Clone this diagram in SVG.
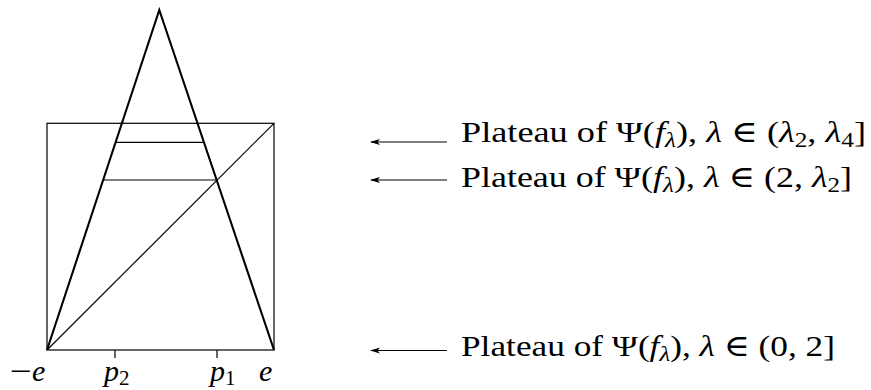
<svg xmlns="http://www.w3.org/2000/svg" width="871" height="390" viewBox="0 0 871 390">
<style>
.thin{fill:none;stroke:#000;stroke-width:1.2}
.thick{fill:none;stroke:#000;stroke-width:2.1;stroke-linejoin:miter}
.arr{fill:none;stroke:#000;stroke-width:1.2}
.lbl{font-family:"Liberation Serif","DejaVu Serif",serif;font-size:30px;fill:#000}
.ax{font-family:"Liberation Serif","DejaVu Serif",serif;font-size:30px;fill:#000}
.it{font-style:italic}
.sub{font-size:21px}
</style>
<defs>
<marker id="ah" markerWidth="10" markerHeight="7" refX="9" refY="3.5" orient="auto" markerUnits="userSpaceOnUse">
<path d="M10,3.5 L0,0.5 L2.5,3.5 L0,6.5 Z" fill="#000"/>
</marker>
</defs>
<g id="plot">
<rect class="thin" x="47" y="123.3" width="227" height="226.7"/>
<line class="thin" x1="47" y1="350" x2="274" y2="123.3" stroke-width="1"/>
<line class="thin" x1="116" y1="142.3" x2="204" y2="142.3"/>
<line class="thin" x1="103.5" y1="180" x2="217" y2="180"/>
<path class="thick" d="M47,350 L159.3,10 L274,350"/>
<line class="thin" x1="115" y1="350" x2="115" y2="358"/>
<line class="thin" x1="217" y1="350" x2="217" y2="358"/>
</g>
<g id="axis-labels">
<text class="ax" x="10" y="381" textLength="22" lengthAdjust="spacingAndGlyphs">−</text>
<text class="ax it" x="32" y="381">e</text>
<text class="ax" x="104" y="381"><tspan class="it">p</tspan><tspan class="sub" dy="4">2</tspan></text>
<text class="ax" x="210" y="381"><tspan class="it">p</tspan><tspan class="sub" dy="4">1</tspan></text>
<text class="ax it" x="259" y="381">e</text>
</g>
<g id="connectors">
<line class="arr" x1="447" y1="142" x2="371" y2="142" marker-end="url(#ah)"/>
<line class="arr" x1="447" y1="180" x2="371" y2="180" marker-end="url(#ah)"/>
<line class="arr" x1="447" y1="350.5" x2="371" y2="350.5" marker-end="url(#ah)"/>
</g>
<g id="label1">
<text class="lbl" x="461" y="142" textLength="405" lengthAdjust="spacingAndGlyphs">Plateau of Ψ(<tspan class="it">f</tspan><tspan class="it sub" dy="5">λ</tspan><tspan dy="-5">),  </tspan><tspan class="it">λ</tspan> ∈ (<tspan class="it">λ</tspan><tspan class="sub" dy="5">2</tspan><tspan dy="-5">, </tspan><tspan class="it">λ</tspan><tspan class="sub" dy="5">4</tspan><tspan dy="-5">]</tspan></text>
</g>
<g id="label2">
<text class="lbl" x="461" y="187" textLength="391" lengthAdjust="spacingAndGlyphs">Plateau of Ψ(<tspan class="it">f</tspan><tspan class="it sub" dy="5">λ</tspan><tspan dy="-5">),  </tspan><tspan class="it">λ</tspan> ∈ (2, <tspan class="it">λ</tspan><tspan class="sub" dy="5">2</tspan><tspan dy="-5">]</tspan></text>
</g>
<g id="label3">
<text class="lbl" x="461" y="356" textLength="374" lengthAdjust="spacingAndGlyphs">Plateau of Ψ(<tspan class="it">f</tspan><tspan class="it sub" dy="5">λ</tspan><tspan dy="-5">),  </tspan><tspan class="it">λ</tspan> ∈ (0, 2]</text>
</g>
</svg>
